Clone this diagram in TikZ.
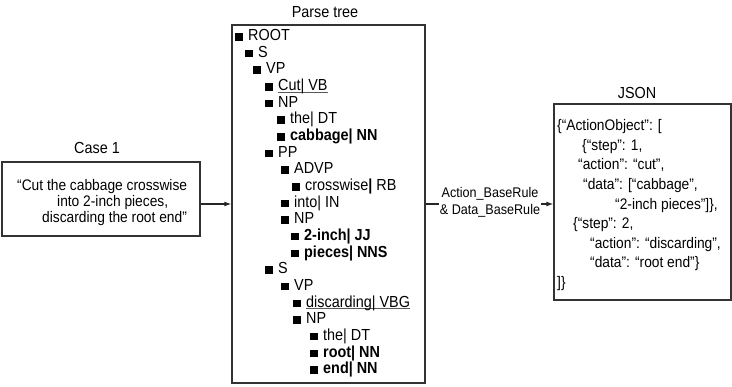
\documentclass[tikz,border=0pt]{standalone}
\usepackage{fontspec}
\setmainfont{Liberation Sans}[FakeStretch=0.9]
\usetikzlibrary{arrows.meta}
\newcommand\tb{\rule{7.5pt}{7.5pt}\hspace{5.5pt}}
\newcommand\ulx[1]{\setbox0\hbox{#1}\rlap{\color{black!65}\rule[-2.2pt]{\wd0}{0.9pt}}\box0}
\begin{document}
\begin{tikzpicture}[x=1pt,y=-1pt,
  every node/.style={font=\fontsize{16}{19}\selectfont},
  lbl/.style={inner sep=0pt, anchor=west, text height=11.4pt, text depth=0pt},
  sm/.style={lbl, font=\fontsize{15.3}{18}\selectfont},
  ttl/.style={inner sep=0pt, text height=11.4pt, text depth=0pt},
  box/.style={draw=black!80, line width=1.2pt, rectangle, inner sep=0pt},
  arr/.style={draw=black!85, line width=1.2pt, -{Latex[length=7pt,width=5pt]}},
]
\useasboundingbox (0,0) rectangle (732,387);
% boxes
\node[box, minimum width=198pt, minimum height=74pt] (case) at (101,199) {};
\node[box, minimum width=193pt, minimum height=358pt] (parse) at (328.5,204) {};
\node[box, minimum width=177pt, minimum height=196pt] (json) at (642.5,202) {};
% titles
\node[ttl] (tcase) at (97,148) {Case 1};
\node[ttl] (tparse) at (325,12) {Parse tree};
\node[ttl] (tjson) at (637,93) {JSON};
% case text
\node[sm] (c1) at (17,185) {“Cut the cabbage crosswise};
\node[sm] (c2) at (57,201) {into 2-inch pieces,};
\node[sm] (c3) at (42,217) {discarding the root end”};
% parse tree
\node[lbl] (t0) at (235,35) {\tb ROOT};
\node[lbl] (t1) at (245,51.65) {\tb S};
\node[lbl] (t2) at (253,68.3) {\tb VP};
\node[lbl] (t3) at (265,84.95) {\tb \ulx{Cut| VB}};
\node[lbl] (t4) at (265,101.6) {\tb NP};
\node[lbl] (t5) at (277,118.25) {\tb the| DT};
\node[lbl] (t6) at (277,134.9) {\tb \textbf{cabbage| NN}};
\node[lbl] (t7) at (265,151.55) {\tb PP};
\node[lbl] (t8) at (281,168.2) {\tb ADVP};
\node[lbl] (t9) at (292,184.85) {\tb crosswise\textbf{|} RB};
\node[lbl] (t10) at (281,201.5) {\tb into| IN};
\node[lbl] (t11) at (281,218.15) {\tb NP};
\node[lbl] (t12) at (291,234.8) {\tb \textbf{2-inch| JJ}};
\node[lbl] (t13) at (291,251.45) {\tb \textbf{pieces| NNS}};
\node[lbl] (t14) at (265,268.1) {\tb S};
\node[lbl] (t15) at (281,284.75) {\tb VP};
\node[lbl] (t16) at (293,301.4) {\tb \ulx{discarding| VBG}};
\node[lbl] (t17) at (293,318.05) {\tb NP};
\node[lbl] (t18) at (310,334.7) {\tb the| DT};
\node[lbl] (t19) at (310,351.35) {\tb \textbf{root| NN}};
\node[lbl] (t20) at (310,368) {\tb \textbf{end| NN}};
% json text
\node[sm] (j0) at (557,125) {\{“ActionObject”: [};
\node[sm] (j1) at (582,144.6) {\{“step”: 1,};
\node[sm] (j2) at (578,164.2) {“action”: “cut”,};
\node[sm] (j3) at (583,183.8) {“data”: [“cabbage”,};
\node[sm] (j4) at (615,203.4) {“2-inch pieces”]\},};
\node[sm] (j5) at (573,223) {\{“step”: 2,};
\node[sm] (j6) at (590,242.6) {“action”: “discarding”,};
\node[sm] (j7) at (590,262.2) {“data”: “root end”\}};
\node[sm] (j8) at (557,281.8) {]\}};
% arrows
\draw[arr] (parse.west -| case.east) -- (parse.west);
\draw[arr] (parse.east) -- (parse.east -| json.west);
\node[fill=white, inner sep=1pt, align=center, font=\fontsize{14}{17}\selectfont] (rule) at (490,202) {Action\_BaseRule\\\& Data\_BaseRule};
\end{tikzpicture}
\end{document}
